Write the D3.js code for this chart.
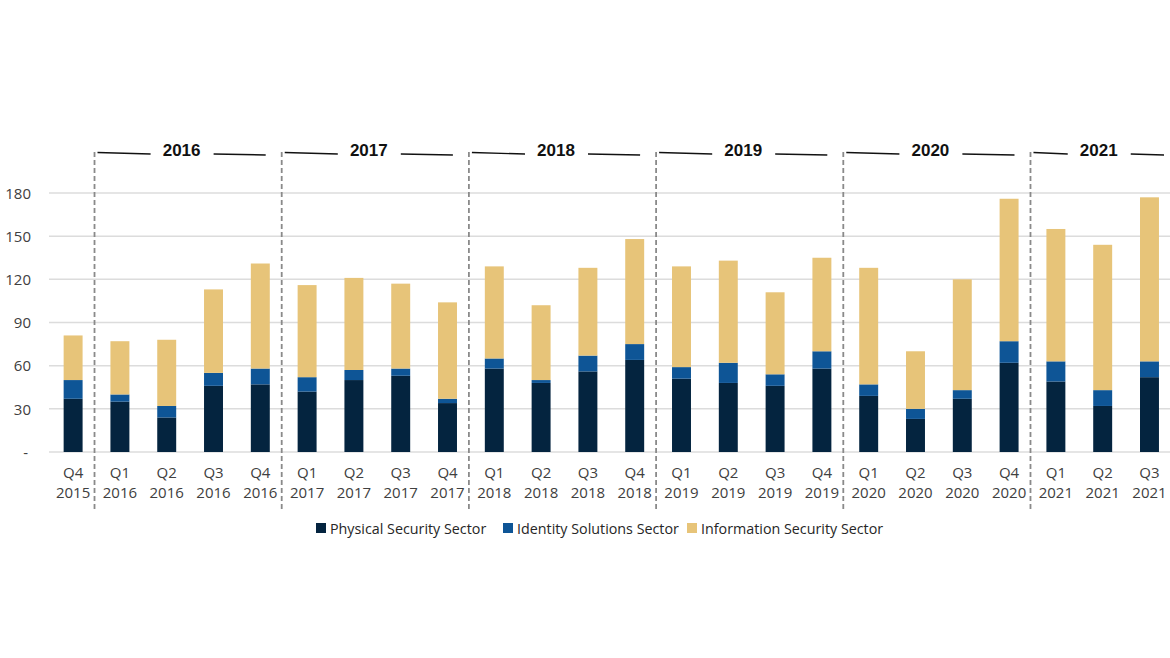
<!DOCTYPE html>
<html>
<head>
<meta charset="utf-8">
<script src="https://cdn.jsdelivr.net/npm/d3@7"></script>
<style>
  body { margin: 0; background: #fff; }
  svg { display: block; }
  .tick-label { font-family: 'Open Sans', sans-serif; font-size: 15px; fill: #404040; }
  .year-label { font-family: 'Liberation Sans', Arial, sans-serif; font-size: 17px; font-weight: bold; fill: #111; }
  .legend-text { font-family: 'Open Sans', sans-serif; font-size: 14.3px; fill: #262626; }
</style>
</head>
<body>
<svg width="1170" height="658"></svg>
<script>
// quarters shown on the x axis
var quarters = ['Q4','Q1','Q2','Q3','Q4','Q1','Q2','Q3','Q4','Q1','Q2','Q3','Q4',
                'Q1','Q2','Q3','Q4','Q1','Q2','Q3','Q4','Q1','Q2','Q3'];
var years = [2015,2016,2016,2016,2016,2017,2017,2017,2017,2018,2018,2018,2018,
             2019,2019,2019,2019,2020,2020,2020,2020,2021,2021,2021];

// series values
var physical = [37,35,24,46,47,42,50,53,34,58,48,56,64,51,48,46,58,39,23,37,62,49,32,52];
var identity = [13,5,8,9,11,10,7,5,3,7,2,11,11,8,14,8,12,8,7,6,15,14,11,11];
var information = [31,37,46,58,73,64,64,59,67,64,52,61,73,70,71,57,65,81,40,77,99,92,101,114];

var seriesNames = ['Physical Security Sector', 'Identity Solutions Sector', 'Information Security Sector'];
var colors = ['#04243f', '#0e5596', '#e7c479'];
var yTicks = [0, 30, 60, 90, 120, 150, 180];
var headerYears = [2016, 2017, 2018, 2019, 2020, 2021];

var svg = d3.select('svg');
var svgWidth = +svg.attr('width');

var rows = quarters.map(function(q, i) {
    return {
        key: q + ' ' + years[i],
        q: q,
        year: years[i],
        'Physical Security Sector': physical[i],
        'Identity Solutions Sector': identity[i],
        'Information Security Sector': information[i]
    };
});

var xScale = d3.scaleBand()
    .domain(rows.map(function(d) { return d.key; }))
    .range([49.6, 1173])
    .paddingInner(0.595)
    .paddingOuter(0.3);

var yScale = d3.scaleLinear()
    .domain([0, 180])
    .range([452, 193]);

// gridlines
svg.append('g')
    .selectAll('line')
    .data(yTicks)
    .enter()
    .append('line')
    .attr('x1', 49)
    .attr('x2', svgWidth)
    .attr('y1', function(d) { return yScale(d); })
    .attr('y2', function(d) { return yScale(d); })
    .attr('stroke', '#dcdcdc')
    .attr('stroke-width', 1.5);

// y axis labels
var yAxis = d3.axisLeft(yScale)
    .tickValues(yTicks)
    .tickSize(0)
    .tickPadding(0)
    .tickFormat(function(d) { return d === 0 ? '-' : d; });
var yAxisG = svg.append('g')
    .attr('transform', 'translate(31,0)')
    .call(yAxis);
yAxisG.select('.domain').remove();
yAxisG.selectAll('text')
    .attr('class', 'tick-label')
    .attr('dy', '0.35em')
    .attr('x', function(d) { return d === 0 ? -3 : 0; });

// stacked bars
var stack = d3.stack().keys(seriesNames);
var stacked = stack(rows);

svg.append('g')
    .selectAll('g')
    .data(stacked)
    .enter()
    .append('g')
    .attr('fill', function(d, i) { return colors[i]; })
    .selectAll('rect')
    .data(function(d) { return d; })
    .enter()
    .append('rect')
    .attr('x', function(d) { return xScale(d.data.key); })
    .attr('width', xScale.bandwidth())
    .attr('y', function(d) { return yScale(d[1]); })
    .attr('height', function(d) { return yScale(d[0]) - yScale(d[1]); });

// x axis labels (two lines)
var xLabels = svg.append('g')
    .selectAll('text')
    .data(rows)
    .enter()
    .append('text')
    .attr('class', 'tick-label')
    .attr('text-anchor', 'middle')
    .attr('x', function(d) { return xScale(d.key) + xScale.bandwidth() / 2; });
xLabels.append('tspan')
    .attr('x', function(d) { return xScale(d.key) + xScale.bandwidth() / 2; })
    .attr('y', 478)
    .text(function(d) { return d.q; });
xLabels.append('tspan')
    .attr('x', function(d) { return xScale(d.key) + xScale.bandwidth() / 2; })
    .attr('y', 498)
    .text(function(d) { return d.year; });

// year separators + headers
var step = xScale.step();
function sepX(year) {
    var first = rows.filter(function(d) { return d.year === year; })[0];
    return xScale(first.key) - (step - xScale.bandwidth()) / 2 - 2;
}

var sepG = svg.append('g');
headerYears.forEach(function(yr, i) {
    var left = sepX(yr);
    sepG.append('line')
        .attr('x1', left).attr('x2', left)
        .attr('y1', 152).attr('y2', 512)
        .attr('stroke', '#8a8a8a')
        .attr('stroke-width', 1.8)
        .attr('stroke-dasharray', '5,3');

    var start = left + 3;
    var end = i < headerYears.length - 1 ? sepX(headerYears[i + 1]) - 16 : svgWidth - 6;
    var c = (start + end) / 2;

    sepG.append('line')
        .attr('x1', start).attr('x2', c - 31)
        .attr('y1', 152.5).attr('y2', 154)
        .attr('stroke', '#111').attr('stroke-width', 1.4);
    sepG.append('line')
        .attr('x1', c + 32).attr('x2', end)
        .attr('y1', 154).attr('y2', 155)
        .attr('stroke', '#111').attr('stroke-width', 1.4);
    sepG.append('text')
        .attr('class', 'year-label')
        .attr('x', c)
        .attr('y', 156)
        .attr('text-anchor', 'middle')
        .text(yr);
});

// legend
var legendPos = [316, 503, 687];
var legend = svg.append('g')
    .selectAll('g')
    .data(seriesNames)
    .enter()
    .append('g')
    .attr('transform', function(d, i) { return 'translate(' + legendPos[i] + ',523)'; });
legend.append('rect')
    .attr('width', 10)
    .attr('height', 10)
    .attr('fill', function(d, i) { return colors[i]; });
legend.append('text')
    .attr('class', 'legend-text')
    .attr('x', 14)
    .attr('y', 10.5)
    .text(function(d) { return d; });
</script>
</body>
</html>
